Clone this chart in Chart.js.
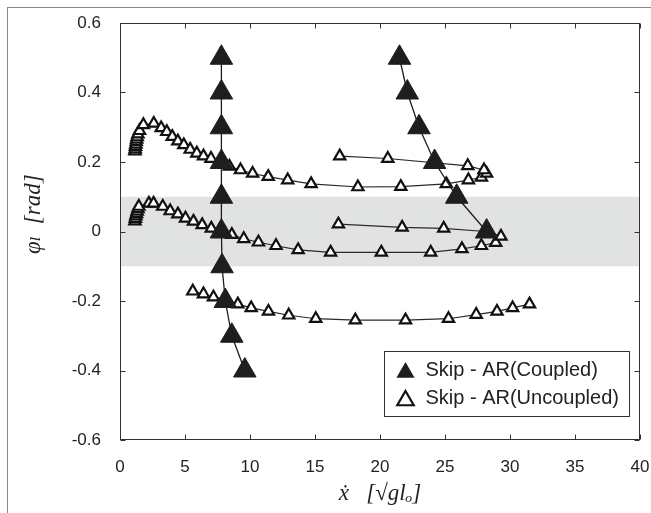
<!DOCTYPE html>
<html>
<head>
<meta charset="utf-8">
<script src="https://cdn.jsdelivr.net/npm/chart.js@4.4.1/dist/chart.umd.min.js"></script>
<style>
  html, body { margin: 0; padding: 0; background: #fff; }
  #wrap { position: relative; width: 651px; height: 513px; }
  #frame { position: absolute; left: 7px; top: 7px; right: 0; bottom: 0;
           border-left: 1px solid #888; border-top: 1px solid #888; pointer-events: none; }
</style>
</head>
<body>
<div id="wrap">
  <canvas id="c" width="651" height="513"></canvas>
  <div id="frame"></div>
</div>
<script>
'use strict';

// ---- data ----
const xTicks = [0, 5, 10, 15, 20, 25, 30, 35, 40];
const yTicks = [-0.6, -0.4, -0.2, 0, 0.2, 0.4, 0.6];
const bandLimits = [-0.1, 0.1];

const legendLabels = ['Skip - AR(Coupled)', 'Skip - AR(Uncoupled)'];

// coupled trajectories (filled triangles)
const coupledAX = [7.8, 7.8, 7.8, 7.8, 7.8, 7.8, 7.85, 8.1, 8.6, 9.6];
const coupledAY = [0.5, 0.4, 0.3, 0.2, 0.1, 0, -0.1, -0.2, -0.3, -0.4];
const coupledBX = [21.5, 22.1, 23.0, 24.2, 25.9, 28.2];
const coupledBY = [0.5, 0.4, 0.3, 0.2, 0.1, 0];

// uncoupled trajectories (open triangles)
const upperX = [1.15, 1.17, 1.19, 1.22, 1.25, 1.28, 1.32, 1.38, 1.5, 1.8, 2.6, 3.17, 3.6, 4.02,
  4.45, 4.91, 5.4, 5.91, 6.42, 7.0, 7.78, 8.42, 9.27, 10.2, 11.4, 12.9, 14.7, 18.3, 21.6,
  25.1, 26.8, 27.8, 28.2, 28.0, 26.75, 20.6, 16.9];
const upperY = [0.231, 0.237, 0.244, 0.251, 0.258, 0.265, 0.272, 0.280, 0.290, 0.307, 0.311,
  0.298, 0.287, 0.273, 0.260, 0.249, 0.236, 0.225, 0.217, 0.210, 0.196, 0.187, 0.177, 0.167,
  0.158, 0.148, 0.137, 0.128, 0.129, 0.137, 0.148, 0.156, 0.167, 0.177, 0.189, 0.210, 0.217];

const middleX = [1.15, 1.18, 1.22, 1.27, 1.32, 1.38, 1.45, 2.22, 2.58, 3.29, 3.86, 4.45, 5.04,
  5.65, 6.32, 7.02, 7.78, 8.6, 9.52, 10.65, 12.0, 13.7, 16.2, 20.1, 23.9, 26.3, 27.8, 28.9,
  29.3, 28.1, 24.9, 21.7, 16.8];
const middleY = [0.030, 0.037, 0.044, 0.051, 0.058, 0.065, 0.072, 0.081, 0.081, 0.072, 0.059,
  0.050, 0.038, 0.029, 0.019, 0.009, -0.002, -0.009, -0.021, -0.031, -0.041, -0.053, -0.060,
  -0.060, -0.060, -0.050, -0.041, -0.032, -0.014, 0.000, 0.009, 0.012, 0.021];

const lowerX = [5.6, 6.42, 7.19, 8.09, 9.06, 10.09, 11.42, 12.98, 15.06, 18.1, 21.96, 25.27,
  27.4, 29.0, 30.2, 31.5];
const lowerY = [-0.172, -0.180, -0.189, -0.196, -0.209, -0.220, -0.230, -0.241, -0.251,
  -0.255, -0.255, -0.251, -0.239, -0.230, -0.220, -0.209];

const pts = (xs, ys) => xs.map((x, i) => ({ x, y: ys[i] }));

const INK = '#1e1e1e';

function coupledSet(xs, ys) {
  return {
    data: pts(xs, ys), showLine: true, order: 0,
    borderColor: INK, borderWidth: 1.3,
    pointStyle: 'triangle', pointRadius: 13,
    pointBackgroundColor: INK, pointBorderColor: INK, pointBorderWidth: 1,
  };
}
function uncoupledSet(xs, ys) {
  return {
    data: pts(xs, ys), showLine: true, order: 1,
    borderColor: '#2a2a2a', borderWidth: 1.2,
    pointStyle: 'triangle', pointRadius: 6.5,
    pointBackgroundColor: '#fff', pointBorderColor: '#111', pointBorderWidth: 2.2,
  };
}

// grey band between the two limits
const bandPlugin = {
  id: 'band',
  beforeDatasetsDraw(chart) {
    const { ctx, chartArea: a, scales: { y } } = chart;
    const y1 = y.getPixelForValue(bandLimits[1]);
    const y0 = y.getPixelForValue(bandLimits[0]);
    ctx.save();
    ctx.fillStyle = '#e1e2e2';
    ctx.fillRect(a.left, y1, a.right - a.left, y0 - y1);
    ctx.restore();
  }
};

// box around the plot with inward ticks on all sides
const boxPlugin = {
  id: 'box',
  afterDatasetsDraw(chart) {
    const { ctx, chartArea: a, scales: { x, y } } = chart;
    const L = Math.round(a.left) + 0.5, R = Math.round(a.right) - 0.5;
    const T = Math.round(a.top) + 0.5, B = Math.round(a.bottom) - 0.5;
    const tl = 5;
    ctx.save();
    ctx.strokeStyle = '#333';
    ctx.lineWidth = 1;
    ctx.strokeRect(L, T, R - L, B - T);
    ctx.beginPath();
    xTicks.forEach(v => {
      const px = Math.round(x.getPixelForValue(v)) + 0.5;
      ctx.moveTo(px, B); ctx.lineTo(px, B - tl);
      ctx.moveTo(px, T); ctx.lineTo(px, T + tl);
    });
    yTicks.forEach(v => {
      const py = Math.round(y.getPixelForValue(v)) + 0.5;
      ctx.moveTo(L, py); ctx.lineTo(L + tl, py);
      ctx.moveTo(R, py); ctx.lineTo(R - tl, py);
    });
    ctx.stroke();
    ctx.restore();
  }
};

function tri(ctx, cx, cy, r) {
  ctx.beginPath();
  for (let k = 0; k < 3; k++) {
    const ang = k * 2 * Math.PI / 3;
    const px = cx + Math.sin(ang) * r, py = cy - Math.cos(ang) * r;
    if (k === 0) ctx.moveTo(px, py); else ctx.lineTo(px, py);
  }
  ctx.closePath();
}

// legend box in the lower right of the plot
const legendPlugin = {
  id: 'boxLegend',
  afterDraw(chart) {
    const { ctx, chartArea: a } = chart;
    const bx = a.right - 255.5, by = a.bottom - 88.5, bw = 245, bh = 65;
    ctx.save();
    ctx.fillStyle = '#fff';
    ctx.fillRect(bx, by, bw, bh);
    ctx.strokeStyle = '#333';
    ctx.lineWidth = 1;
    ctx.strokeRect(bx, by, bw, bh);

    const mx = bx + 21, rows = [by + 21, by + 49];
    tri(ctx, mx, rows[0], 10.5);
    ctx.fillStyle = INK; ctx.fill();
    tri(ctx, mx, rows[1], 9.5);
    ctx.fillStyle = '#fff'; ctx.fill();
    ctx.strokeStyle = '#111'; ctx.lineWidth = 2.2; ctx.stroke();

    ctx.fillStyle = '#222';
    ctx.font = '20px "Liberation Sans", Arial, sans-serif';
    ctx.textBaseline = 'middle';
    ctx.fillText(legendLabels[0], bx + 41, rows[0] - 2);
    ctx.fillText(legendLabels[1], bx + 41, rows[1] - 2);
    ctx.restore();
  }
};

const tickFont = { family: '"Liberation Sans", Arial, sans-serif', size: 17 };
const titleFont = { family: '"Liberation Serif", "DejaVu Serif", serif', size: 23, style: 'italic' };

new Chart(document.getElementById('c'), {
  type: 'scatter',
  data: {
    datasets: [
      coupledSet(coupledAX, coupledAY),
      coupledSet(coupledBX, coupledBY),
      uncoupledSet(upperX, upperY),
      uncoupledSet(middleX, middleY),
      uncoupledSet(lowerX, lowerY),
    ]
  },
  options: {
    responsive: false,
    animation: false,
    layout: { autoPadding: false, padding: { top: 23, right: 11, left: 0, bottom: 0 } },
    elements: { line: { tension: 0 } },
    plugins: { legend: { display: false }, tooltip: { enabled: false } },
    scales: {
      x: {
        type: 'linear', min: 0, max: 40,
        grid: { display: false, drawTicks: false },
        border: { display: false },
        afterBuildTicks: s => { s.ticks = xTicks.map(v => ({ value: v })); },
        ticks: { font: tickFont, color: '#222', padding: 17, maxRotation: 0,
                 callback: v => String(v) },
        title: { display: true, text: 'ẋ   [√gl\u2092]', font: titleFont, color: '#222',
                 padding: { top: 0, bottom: 5 } },
        afterFit: s => { s.height = 73; s.paddingLeft = 0; s.paddingRight = 0; }
      },
      y: {
        type: 'linear', min: -0.6, max: 0.6,
        grid: { display: false, drawTicks: false },
        border: { display: false },
        afterBuildTicks: s => { s.ticks = yTicks.map(v => ({ value: v })); },
        ticks: { font: tickFont, color: '#222', padding: 19,
                 callback: v => String(+v.toFixed(1)) },
        title: { display: true, text: '      φ\u2097  [rad]', font: titleFont, color: '#222',
                 padding: { top: 20, bottom: 0 } },
        afterFit: s => { s.width = 120; s.paddingTop = 0; s.paddingBottom = 0; }
      }
    }
  },
  plugins: [bandPlugin, boxPlugin, legendPlugin]
});
</script>
</body>
</html>
